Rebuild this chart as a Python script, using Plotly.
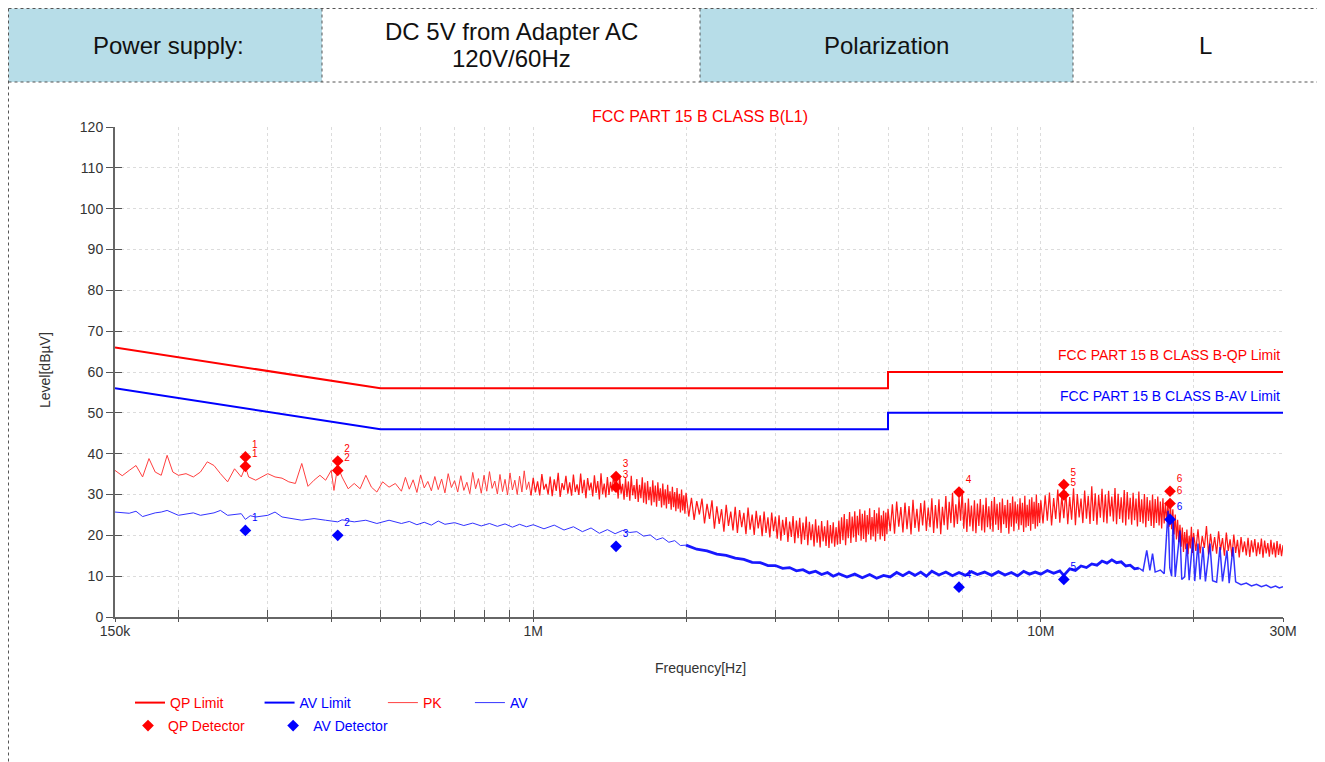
import plotly.graph_objects as go

# ---------------- header table ----------------
HEADER_TEXT = [["Power supply:"], ["DC 5V from Adapter AC", "120V/60Hz"], ["Polarization"], ["L"]]
HEADER_FILL = ["#b7dde8", "#ffffff", "#b7dde8", "#ffffff"]

CHART_TITLE = "FCC PART 15 B CLASS B(L1)"
QP_LIMIT_NAME = "FCC PART 15 B CLASS B-QP Limit"
AV_LIMIT_NAME = "FCC PART 15 B CLASS B-AV Limit"

# ---------------- limits ----------------
LIMIT_FREQ_MHZ = [0.15, 0.5, 5.0, 5.0, 30.0]
QP_LIMIT = [66, 56, 56, 60, 60]
AV_LIMIT = [56, 46, 46, 50, 50]

# ---------------- PK scan ----------------
PK_FREQ_A = [0.150, 0.155, 0.160, 0.165, 0.170, 0.175, 0.180, 0.185, 0.190, 0.195,
             0.200, 0.207, 0.214, 0.221, 0.228, 0.235, 0.242, 0.250, 0.258, 0.266,
             0.271, 0.275, 0.284, 0.293, 0.300, 0.310, 0.320, 0.330, 0.340, 0.350,
             0.360, 0.370, 0.380, 0.390, 0.400, 0.405, 0.412, 0.420, 0.432, 0.444,
             0.456, 0.468, 0.480, 0.492, 0.505, 0.520, 0.535]
PK_LEVEL_A = [35.9, 34.6, 35.9, 37.1, 34.3, 38.8, 35.5, 34.7, 39.6, 35.5,
              34.7, 35.1, 34.3, 35.5, 38.0, 37.1, 35.1, 33.1, 36.3, 34.3,
              36.8, 34.3, 33.5, 34.5, 35.1, 34.3, 34.0, 33.1, 32.7, 37.6,
              32.0, 33.5, 34.7, 33.5, 35.9, 31.0, 37.0, 34.3, 31.4, 32.7,
              31.4, 34.7, 31.8, 30.6, 33.1, 31.8, 32.7]

PK_FREQ_B = [0.55, 0.56, 0.57, 0.58, 0.59, 0.60, 0.61, 0.62, 0.63, 0.64,
             0.65, 0.66, 0.67, 0.68, 0.69, 0.70, 0.71, 0.72, 0.73, 0.74,
             0.75, 0.76, 0.77, 0.78, 0.79, 0.80, 0.81, 0.82, 0.83, 0.84,
             0.85, 0.86, 0.87, 0.88, 0.89, 0.90, 0.91, 0.92, 0.93, 0.94,
             0.95, 0.96, 0.97, 0.98, 0.99]
PK_LEVEL_B = [30.8, 34.2, 31.3, 33.6, 30.5, 34.8, 31.6, 33.2, 30.9, 34.4,
              31.2, 33.8, 30.4, 35.1, 31.7, 33.4, 30.6, 34.6, 31.0, 33.0,
              30.2, 35.4, 31.4, 33.9, 30.3, 34.7, 30.8, 35.6, 31.5, 33.3,
              30.1, 34.9, 30.7, 33.7, 29.9, 35.3, 31.1, 33.5, 30.0, 34.5,
              30.6, 35.8, 31.2, 33.1, 29.8]

PK_FREQ_C = [0.99,
             1.00, 1.01, 1.02, 1.03, 1.04, 1.05, 1.06, 1.07, 1.08, 1.09,
             1.10, 1.11, 1.12, 1.13, 1.14, 1.15, 1.16, 1.17, 1.18, 1.19,
             1.20, 1.21, 1.22, 1.23, 1.24, 1.25, 1.26, 1.27, 1.28, 1.29,
             1.30, 1.31, 1.32, 1.33, 1.34, 1.35, 1.36, 1.37, 1.38, 1.39,
             1.40, 1.41, 1.42, 1.43, 1.44, 1.45, 1.46, 1.47, 1.48, 1.49,
             1.50, 1.51, 1.52, 1.53, 1.54, 1.55, 1.56, 1.57, 1.58, 1.59,
             1.60, 1.61, 1.62, 1.63, 1.64, 1.65, 1.66, 1.67, 1.68, 1.69,
             1.70, 1.71, 1.72, 1.73, 1.74, 1.75, 1.76, 1.77, 1.78, 1.79,
             1.80, 1.81, 1.82, 1.83, 1.84, 1.85, 1.86, 1.87, 1.88, 1.89,
             1.90, 1.91, 1.92, 1.93, 1.94, 1.95, 1.96, 1.97, 1.98, 1.99,
             2.00]
PK_LEVEL_C = [29.8,
              34.1, 30.5, 33.2, 29.8, 35.0, 31.2, 32.6, 30.0, 34.4, 29.6,
              33.7, 30.9, 35.3, 29.4, 32.8, 31.1, 34.6, 30.2, 33.0, 29.7,
              34.9, 30.6, 32.5, 29.9, 35.1, 30.3, 33.6, 29.1, 34.0, 31.0,
              32.9, 29.5, 34.7, 30.4, 33.3, 28.8, 35.2, 30.1, 32.7, 29.3,
              34.3, 29.9, 33.1, 30.7, 34.8, 31.4, 33.5, 29.0, 34.5, 30.2,
              32.6, 28.7, 34.0, 29.4, 33.2, 28.5, 34.6, 29.8, 32.3, 28.9,
              33.8, 28.2, 32.4, 29.1, 34.2, 28.0, 32.9, 27.6, 33.3, 28.6,
              31.9, 27.3, 33.5, 28.1, 32.2, 27.0, 33.0, 28.4, 31.5, 26.8,
              32.7, 27.4, 31.3, 26.6, 32.4, 27.7, 30.8, 26.3, 31.9, 26.9,
              30.6, 25.9, 31.6, 26.5, 30.2, 25.6, 31.2, 26.1, 29.8, 25.3,
              30.4]

PK_FREQ_D = [2.025, 2.050, 2.075, 2.100, 2.125, 2.150, 2.175, 2.200, 2.225, 2.250,
             2.275, 2.300, 2.325, 2.350, 2.375, 2.400, 2.425, 2.450, 2.475, 2.500,
             2.525, 2.550, 2.575, 2.600, 2.625, 2.650, 2.675, 2.700, 2.725, 2.750,
             2.775, 2.800, 2.825, 2.850, 2.875, 2.900, 2.925, 2.950, 2.975, 3.000,
             3.025, 3.050, 3.075, 3.100, 3.125, 3.150, 3.175, 3.200, 3.225, 3.250,
             3.275, 3.300, 3.325, 3.350, 3.375, 3.400, 3.425, 3.450, 3.475, 3.500,
             3.525, 3.550, 3.575, 3.600, 3.625, 3.650, 3.675, 3.700, 3.725, 3.750,
             3.775, 3.800, 3.825, 3.850, 3.875, 3.900, 3.925, 3.950, 3.975, 4.000,
             4.025, 4.050, 4.075, 4.100, 4.125, 4.150, 4.175, 4.200, 4.225, 4.250,
             4.275, 4.300, 4.325, 4.350, 4.375, 4.400, 4.425, 4.450, 4.475, 4.500,
             4.525, 4.550, 4.575, 4.600, 4.625, 4.650, 4.675, 4.700, 4.725, 4.750,
             4.775, 4.800, 4.825, 4.850, 4.875, 4.900, 4.925, 4.950, 4.975, 5.000]
PK_LEVEL_D = [24.6, 29.2, 23.8, 28.4, 25.1, 29.0, 22.9, 27.7, 24.0, 28.6,
              21.6, 27.1, 22.8, 26.4, 20.9, 27.5, 22.3, 25.8, 21.2, 27.0,
              20.6, 26.2, 22.0, 25.5, 20.3, 26.8, 21.4, 25.1, 20.1, 26.0,
              21.7, 24.9, 19.8, 25.8, 20.6, 24.4, 19.5, 25.6, 21.0, 24.6,
              19.2, 24.9, 18.7, 23.8, 20.1, 24.5, 18.4, 23.4, 19.6, 24.7,
              18.1, 23.6, 19.3, 24.3, 17.8, 23.1, 18.9, 24.6, 17.6, 23.3,
              18.8, 22.7, 17.3, 23.9, 18.2, 22.4, 17.0, 23.5, 18.5, 22.2,
              17.4, 23.7, 16.9, 22.5, 18.0, 23.2, 17.2, 22.0, 17.7, 23.6,
              17.9, 24.4, 18.8, 25.2, 17.6, 24.0, 19.3, 25.7, 18.1, 24.6,
              19.5, 25.9, 18.4, 24.8, 20.0, 26.4, 18.7, 25.3, 19.1, 26.1,
              18.3, 25.0, 20.2, 26.6, 18.9, 24.5, 19.7, 26.2, 18.5, 25.4,
              20.4, 26.8, 19.0, 24.9, 19.8, 26.0, 18.6, 25.6, 20.3, 26.5]

PK_FREQ_E = [5.05, 5.10, 5.15, 5.20, 5.25, 5.30, 5.35, 5.40, 5.45, 5.50,
             5.55, 5.60, 5.65, 5.70, 5.75, 5.80, 5.85, 5.90, 5.95, 6.00,
             6.05, 6.10, 6.15, 6.20, 6.25, 6.30, 6.35, 6.40, 6.45, 6.50,
             6.55, 6.60, 6.65, 6.70, 6.75, 6.80, 6.85, 6.90, 6.95, 7.00,
             7.05, 7.10, 7.15, 7.20, 7.25, 7.30, 7.35, 7.40, 7.45, 7.50,
             7.55, 7.60, 7.65, 7.70, 7.75, 7.80, 7.85, 7.90, 7.95, 8.00,
             8.05, 8.10, 8.15, 8.20, 8.25, 8.30, 8.35, 8.40, 8.45, 8.50,
             8.55, 8.60, 8.65, 8.70, 8.75, 8.80, 8.85, 8.90, 8.95, 9.00,
             9.05, 9.10, 9.15, 9.20, 9.25, 9.30, 9.35, 9.40, 9.45, 9.50,
             9.55, 9.60, 9.65, 9.70, 9.75, 9.80, 9.85, 9.90, 9.95, 10.00]
PK_LEVEL_E = [21.0, 27.6, 20.4, 28.3, 22.1, 26.9, 20.7, 28.0, 21.5, 27.2,
              20.2, 28.7, 21.8, 26.5, 20.9, 27.9, 22.4, 28.5, 21.1, 26.8,
              22.0, 29.1, 20.6, 27.4, 21.7, 28.8, 20.3, 27.0, 22.5, 29.6,
              21.4, 28.2, 23.0, 30.4, 21.9, 27.6, 22.8, 29.3, 23.6, 31.0,
              21.6, 28.0, 20.8, 29.0, 22.2, 27.3, 21.0, 28.6, 20.5, 27.8,
              22.3, 28.9, 21.2, 27.5, 20.7, 29.2, 22.0, 27.1, 21.5, 28.4,
              20.9, 29.4, 22.6, 27.7, 21.3, 28.1, 20.6, 29.0, 22.7, 27.4,
              21.8, 28.7, 20.4, 27.9, 22.1, 29.5, 21.0, 28.3, 22.9, 27.6,
              21.4, 29.1, 22.5, 28.0, 20.8, 29.7, 21.9, 27.5, 22.3, 28.8,
              21.1, 29.3, 22.8, 28.2, 21.6, 30.0, 22.2, 27.9, 23.0, 28.6]

PK_FREQ_F = [10.1, 10.2, 10.3, 10.4, 10.5, 10.6, 10.7, 10.8, 10.9, 11.0,
             11.1, 11.2, 11.3, 11.4, 11.5, 11.6, 11.7, 11.8, 11.9, 12.0,
             12.1, 12.2, 12.3, 12.4, 12.5, 12.6, 12.7, 12.8, 12.9, 13.0,
             13.1, 13.2, 13.3, 13.4, 13.5, 13.6, 13.7, 13.8, 13.9, 14.0,
             14.1, 14.2, 14.3, 14.4, 14.5, 14.6, 14.7, 14.8, 14.9, 15.0,
             15.1, 15.2, 15.3, 15.4, 15.5, 15.6, 15.7, 15.8, 15.9, 16.0,
             16.1, 16.2, 16.3, 16.4, 16.5, 16.6, 16.7, 16.8, 16.9, 17.0,
             17.1, 17.2, 17.3, 17.4, 17.5, 17.6, 17.7, 17.8, 17.9, 18.0,
             18.1, 18.2, 18.3, 18.4, 18.5, 18.6, 18.7, 18.8, 18.9, 19.0,
             19.1, 19.2, 19.3, 19.4, 19.5, 19.6, 19.7, 19.8, 19.9, 20.0]
PK_LEVEL_F = [22.9, 29.8, 23.6, 30.5, 22.4, 29.1, 24.0, 31.2, 23.1, 29.6,
              24.2, 30.8, 22.7, 29.4, 23.8, 31.5, 22.5, 30.1, 24.4, 29.0,
              23.0, 31.0, 24.1, 29.7, 22.8, 32.0, 23.5, 30.3, 22.6, 29.9,
              24.3, 31.4, 23.2, 30.0, 22.9, 30.9, 24.6, 29.5, 23.4, 31.6,
              22.7, 30.2, 24.0, 29.3, 23.1, 31.1, 22.4, 30.6, 23.9, 29.2,
              22.6, 30.4, 23.7, 29.0, 22.2, 30.7, 23.3, 28.8, 22.9, 30.1,
              22.0, 29.4, 23.5, 28.6, 22.3, 30.0, 21.8, 28.9, 23.0, 29.5,
              22.4, 28.3, 21.7, 29.1, 22.9, 28.0, 23.4, 27.6, 22.1, 27.9,
              21.5, 26.4, 20.2, 25.1, 19.0, 23.8, 18.3, 22.6, 17.2, 21.9,
              15.9, 20.8, 16.6, 21.4, 15.4, 19.9, 16.8, 22.1, 15.7, 20.6]

PK_FREQ_G = [20.2, 20.4, 20.6, 20.8, 21.0, 21.2, 21.4, 21.6, 21.8, 22.0,
             22.2, 22.4, 22.6, 22.8, 23.0, 23.2, 23.4, 23.6, 23.8, 24.0,
             24.2, 24.4, 24.6, 24.8, 25.0, 25.2, 25.4, 25.6, 25.8, 26.0,
             26.2, 26.4, 26.6, 26.8, 27.0, 27.2, 27.4, 27.6, 27.8, 28.0,
             28.2, 28.4, 28.6, 28.8, 29.0, 29.2, 29.4, 29.6, 29.8, 30.0]
PK_LEVEL_G = [16.2, 21.5, 15.6, 19.8, 16.9, 22.3, 15.3, 20.4, 16.1, 19.6,
              15.5, 21.0, 16.4, 19.3, 15.0, 20.7, 16.2, 19.0, 14.8, 20.2,
              15.7, 18.9, 14.6, 19.6, 15.9, 18.5, 15.1, 19.4, 14.7, 18.8,
              15.8, 19.1, 14.9, 18.3, 15.4, 19.2, 14.5, 18.7, 15.6, 18.1,
              14.8, 18.9, 15.3, 18.2, 14.6, 18.6, 15.2, 17.9, 14.9, 17.6]

# ---------------- AV scan ----------------
AV_FREQ_A = [0.150, 0.160, 0.165, 0.170, 0.180, 0.185, 0.190, 0.200, 0.214, 0.221,
             0.235, 0.242, 0.250, 0.266, 0.271, 0.277, 0.284, 0.300, 0.310, 0.320,
             0.350, 0.370, 0.390, 0.412, 0.420, 0.444, 0.468, 0.492, 0.520, 0.550,
             0.570, 0.590, 0.610, 0.630, 0.650, 0.670, 0.700, 0.730, 0.760, 0.790,
             0.820, 0.850, 0.880, 0.910, 0.940, 0.970, 1.000, 1.05, 1.10, 1.15,
             1.20, 1.25, 1.30, 1.35, 1.40, 1.45, 1.50, 1.55, 1.60, 1.65,
             1.70, 1.75, 1.80, 1.85, 1.90, 1.95, 2.00]
AV_LEVEL_A = [25.7, 25.4, 25.9, 24.6, 25.5, 25.7, 26.1, 24.9, 25.5, 24.9,
              25.5, 26.1, 24.9, 25.3, 23.9, 24.8, 24.5, 24.9, 25.7, 24.5,
              23.7, 24.1, 23.7, 23.3, 23.8, 23.3, 23.7, 22.9, 23.7, 22.9,
              23.4, 22.6, 23.2, 22.5, 23.5, 22.7, 23.1, 22.4, 23.0, 22.3,
              22.9, 22.2, 22.8, 22.0, 22.7, 22.1, 22.6, 21.6, 22.5, 21.3,
              22.1, 20.9, 21.8, 20.5, 21.4, 20.4, 21.2, 20.7, 20.9, 19.8,
              20.1, 18.9, 19.4, 18.3, 18.7, 17.5, 17.6]

AV_FREQ_B = [2.00, 2.10, 2.20, 2.30, 2.40, 2.50, 2.60, 2.70, 2.80, 2.90, 3.00,
             3.10, 3.20, 3.30, 3.40, 3.50, 3.60, 3.70, 3.80, 3.90, 4.00,
             4.15, 4.30, 4.45, 4.60, 4.75, 4.90, 5.05, 5.20, 5.35, 5.50,
             5.65, 5.80, 5.95, 6.10, 6.30, 6.50, 6.70, 6.90, 7.10, 7.30,
             7.50, 7.75, 8.00, 8.25, 8.50, 8.75, 9.00, 9.25, 9.50, 9.75,
             10.00, 10.30, 10.60, 10.90, 11.10, 11.40, 11.70, 12.00, 12.30, 12.60,
             12.90, 13.20, 13.50, 13.80, 14.10, 14.40, 14.70, 15.00, 15.30, 15.60]
AV_LEVEL_B = [17.6, 16.6, 16.2, 15.4, 15.1, 14.4, 14.1, 13.4, 13.3, 12.6, 12.6,
              11.9, 12.1, 11.3, 11.6, 10.8, 11.2, 10.4, 10.9, 10.0, 10.6,
              9.8, 10.5, 9.6, 10.4, 9.5, 10.2, 9.8, 10.9, 10.1, 11.0,
              10.2, 11.0, 10.0, 11.2, 10.3, 11.0, 10.1, 10.9, 10.2, 11.1,
              10.4, 11.0, 10.2, 11.1, 10.3, 10.9, 10.1, 11.2, 10.5, 11.0,
              10.5, 11.4, 10.7, 11.3, 10.2, 11.8, 11.4, 12.5, 12.1, 13.0,
              12.7, 13.7, 13.2, 14.0, 13.3, 13.5, 12.5, 12.7, 11.8, 12.0]

AV_FREQ_C = [15.60,
             15.90, 16.17, 16.40, 16.60, 16.80, 17.20, 17.50, 17.81, 17.95, 18.10,
             18.22, 18.40, 18.80, 18.95, 19.20, 19.41, 19.60, 19.94, 20.10, 20.40,
             20.60, 20.87, 21.10, 21.54, 21.80, 22.20, 22.54, 22.80, 23.27, 23.50,
             23.91, 24.20, 24.80, 25.40, 26.00, 26.60, 27.20, 27.80, 28.40, 29.00,
             29.50, 30.00]
AV_LEVEL_C = [12.0,
              11.3, 16.3, 11.4, 15.5, 11.0, 11.5, 10.6, 26.0, 12.0, 10.0,
              24.5, 9.8, 21.2, 9.2, 9.8, 18.0, 9.0, 19.5, 8.8, 18.0,
              9.2, 17.2, 8.7, 18.0, 8.9, 8.5, 17.1, 8.7, 16.3, 8.3,
              17.1, 8.6, 7.9, 8.3, 7.6, 8.0, 7.4, 7.8, 7.2, 7.6,
              7.1, 7.4]

# ---------------- final detector readings ----------------
QP_DET_FREQ = [0.271, 0.271, 0.412, 0.412, 1.456, 1.456, 6.90, 11.1, 11.1, 17.97, 17.97]
QP_DET_LEVEL = [39.2, 36.9, 38.2, 35.9, 34.4, 31.8, 30.6, 32.4, 29.9, 30.8, 27.8]
QP_DET_LABEL = ["1", "1", "2", "2", "3", "3", "4", "5", "5", "6", "6"]
AV_DET_FREQ = [0.271, 0.412, 1.456, 6.90, 11.1, 17.97]
AV_DET_LEVEL = [21.2, 20.0, 17.3, 7.3, 9.2, 23.9]
AV_DET_LABEL = ["1", "2", "3", "4", "5", "6"]

X_TICKS = [0.15, 0.2, 0.3, 0.4, 0.5, 0.6, 0.7, 0.8, 0.9, 1, 2, 3, 4, 5, 6, 7, 8, 9, 10, 20, 30]
X_TICK_TEXT = {0.15: "150k", 1: "1M", 10: "10M", 30: "30M"}

# ---------------- layout geometry (page has an 8px body margin) ----------------
OFF = 8
W, H = 1325 - OFF, 762 - OFF
L, R, T, B = 115 - OFF, 42, 127 - OFF, 145
PW, PH = W - L - R, H - T - B


def px(x):
    return (x - OFF - L) / PW


def py(y):
    return (H - B - (y - OFF)) / PH


RED = "#ff0000"
BLUE = "#0000ff"
FONT = "Liberation Sans, Arial, sans-serif"
NB = "\u00a0"


def leg(name, color, pad):
    return f'<span style="color:{color}">{name}</span>' + NB * pad


def join(*parts):
    out = []
    for p in parts:
        out += list(p)
    return out


def pair(f, v):
    n = min(len(f), len(v))
    return f[:n], v[:n]


pk_lo_f, pk_lo_v = pair(join(PK_FREQ_A, PK_FREQ_B), join(PK_LEVEL_A, PK_LEVEL_B))
pk_hi_f, pk_hi_v = pair(join(PK_FREQ_C, PK_FREQ_D, PK_FREQ_E, PK_FREQ_F, PK_FREQ_G),
                        join(PK_LEVEL_C, PK_LEVEL_D, PK_LEVEL_E, PK_LEVEL_F, PK_LEVEL_G))
av_fa, av_va = pair(AV_FREQ_A, AV_LEVEL_A)
av_fb, av_vb = pair(AV_FREQ_B, AV_LEVEL_B)
av_fc, av_vc = pair(AV_FREQ_C, AV_LEVEL_C)

fig = go.Figure()
fig.add_trace(go.Scatter(x=LIMIT_FREQ_MHZ, y=QP_LIMIT, mode="lines", name=leg("QP Limit", RED, 8),
                         line=dict(color=RED, width=2), legend="legend"))
fig.add_trace(go.Scatter(x=LIMIT_FREQ_MHZ, y=AV_LIMIT, mode="lines", name=leg("AV Limit", BLUE, 7),
                         line=dict(color=BLUE, width=2), legend="legend"))
fig.add_trace(go.Scatter(x=pk_lo_f, y=pk_lo_v, mode="lines", name=leg("PK", RED, 6),
                         line=dict(color=RED, width=1), opacity=0.75, legend="legend",
                         legendgroup="pk"))
fig.add_trace(go.Scatter(x=pk_hi_f, y=pk_hi_v, mode="lines", name="PK", showlegend=False,
                         line=dict(color=RED, width=1.25), opacity=0.9, legendgroup="pk"))
fig.add_trace(go.Scatter(x=av_fa, y=av_va, mode="lines", name=leg("AV", BLUE, 0),
                         line=dict(color=BLUE, width=1), opacity=0.8, legend="legend",
                         legendgroup="av"))
fig.add_trace(go.Scatter(x=av_fb, y=av_vb, mode="lines", name="AV", showlegend=False,
                         line=dict(color=BLUE, width=2.8), opacity=0.9, legendgroup="av"))
fig.add_trace(go.Scatter(x=av_fc, y=av_vc, mode="lines", name="AV", showlegend=False,
                         line=dict(color=BLUE, width=1.5), opacity=0.8, legendgroup="av"))
fig.add_trace(go.Scatter(x=QP_DET_FREQ, y=QP_DET_LEVEL, mode="markers+text",
                         name=leg("QP Detector", RED, 6),
                         marker=dict(symbol="diamond", size=9, color=RED),
                         text=QP_DET_LABEL, textposition="top right",
                         textfont=dict(color=RED, size=10, family=FONT), legend="legend2"))
fig.add_trace(go.Scatter(x=AV_DET_FREQ, y=AV_DET_LEVEL, mode="markers+text",
                         name=leg("AV Detector", BLUE, 0),
                         marker=dict(symbol="diamond", size=9, color=BLUE),
                         text=AV_DET_LABEL, textposition="top right",
                         textfont=dict(color=BLUE, size=10, family=FONT), legend="legend2"))
# invisible carrier so the overlay axes (second half of the crossing ticks) get drawn
fig.add_trace(go.Scatter(x=LIMIT_FREQ_MHZ, y=QP_LIMIT, xaxis="x2", yaxis="y2", mode="lines",
                         line=dict(width=0), opacity=0, showlegend=False, hoverinfo="skip"))

shapes = []
cell_x = [8.5, 322, 700, 1073, 1325]
text_x = [168, 511, 886, 1205]
top_y, bot_y = 8.5, 82
for i, fill in enumerate(HEADER_FILL):
    shapes.append(dict(type="rect", xref="paper", yref="paper",
                       x0=px(cell_x[i]), x1=px(cell_x[i + 1]), y0=py(bot_y), y1=py(top_y),
                       fillcolor=fill, line=dict(width=0), layer="below"))
dot = dict(color="#555555", width=1, dash="dot")
shapes.append(dict(type="line", xref="paper", yref="paper", x0=px(8.5), x1=px(1325),
                   y0=py(top_y), y1=py(top_y), line=dot))
shapes.append(dict(type="line", xref="paper", yref="paper", x0=px(8.5), x1=px(1325),
                   y0=py(bot_y), y1=py(bot_y), line=dot))
shapes.append(dict(type="line", xref="paper", yref="paper", x0=px(8.5), x1=px(8.5),
                   y0=py(top_y), y1=py(762), line=dot))
for xx in cell_x[1:4]:
    shapes.append(dict(type="line", xref="paper", yref="paper", x0=px(xx), x1=px(xx),
                       y0=py(top_y), y1=py(bot_y), line=dot))

annotations = []
for i, lines in enumerate(HEADER_TEXT):
    ys = [45] if len(lines) == 1 else [32, 58]
    for txt, yy in zip(lines, ys):
        annotations.append(dict(text=txt, xref="paper", yref="paper",
                                x=px(text_x[i]), y=py(yy),
                                xanchor="center", yanchor="middle", showarrow=False,
                                font=dict(family=FONT, size=24, color="#111111")))
annotations.append(dict(text=CHART_TITLE, xref="paper", yref="paper", x=px(700), y=py(117),
                        xanchor="center", yanchor="middle", showarrow=False,
                        font=dict(family=FONT, size=16, color=RED)))
annotations.append(dict(text=QP_LIMIT_NAME, xref="paper", yref="y", x=px(1282), y=QP_LIMIT[-1] + 4.2,
                        xanchor="right", yanchor="middle", showarrow=False,
                        font=dict(family=FONT, size=14, color=RED)))
annotations.append(dict(text=AV_LIMIT_NAME, xref="paper", yref="y", x=px(1282), y=AV_LIMIT[-1] + 4.2,
                        xanchor="right", yanchor="middle", showarrow=False,
                        font=dict(family=FONT, size=14, color=BLUE)))
annotations.append(dict(text="Level[dBµV]", xref="paper", yref="paper", x=px(45), y=py(370),
                        xanchor="center", yanchor="middle", textangle=-90, showarrow=False,
                        font=dict(family=FONT, size=14, color="#333333")))
annotations.append(dict(text="Frequency[Hz]", xref="paper", yref="paper", x=px(700), y=py(668),
                        xanchor="center", yanchor="middle", showarrow=False,
                        font=dict(family=FONT, size=14, color="#333333")))

grid = dict(showgrid=True, gridcolor="#dcdcdc", gridwidth=1, griddash="dot")
x_range = [-0.823909, 1.477121]
fig.update_layout(
    width=W, height=H, autosize=False,
    margin=dict(l=L, r=R, t=T, b=B, pad=0),
    paper_bgcolor="white", plot_bgcolor="white",
    font=dict(family=FONT, size=13, color="#333333"),
    showlegend=True,
    legend=dict(orientation="h", x=px(130), y=py(703), xanchor="left", yanchor="middle",
                bgcolor="rgba(0,0,0,0)", font=dict(family=FONT, size=14)),
    legend2=dict(orientation="h", x=px(128), y=py(726), xanchor="left", yanchor="middle",
                 bgcolor="rgba(0,0,0,0)", font=dict(family=FONT, size=14)),
    xaxis=dict(type="log", range=x_range, tickmode="array", tickvals=X_TICKS,
               ticktext=[X_TICK_TEXT.get(v, "") for v in X_TICKS],
               ticks="inside", ticklen=7, tickcolor="#555555", tickwidth=1,
               showline=True, linecolor="#666666", linewidth=2, zeroline=False,
               tickfont=dict(family=FONT, size=14, color="#333333"), **grid),
    yaxis=dict(range=[0, 120], dtick=10, tick0=0,
               ticks="outside", ticklen=7, tickcolor="#555555", tickwidth=1,
               showline=True, linecolor="#666666", linewidth=2, zeroline=False,
               tickfont=dict(family=FONT, size=14, color="#333333"), **grid),
    xaxis2=dict(type="log", range=x_range, overlaying="x", anchor="y2", side="bottom",
                tickmode="array", tickvals=X_TICKS, showticklabels=False,
                ticks="outside", ticklen=4, tickcolor="#555555", tickwidth=1,
                showgrid=False, showline=False, zeroline=False),
    yaxis2=dict(range=[0, 120], dtick=10, tick0=0, overlaying="y", anchor="x2", side="left",
                showticklabels=False, ticks="inside", ticklen=7, tickcolor="#555555", tickwidth=1,
                showgrid=False, showline=False, zeroline=False),
    shapes=shapes, annotations=annotations,
)

fig.write_html("out.html")
